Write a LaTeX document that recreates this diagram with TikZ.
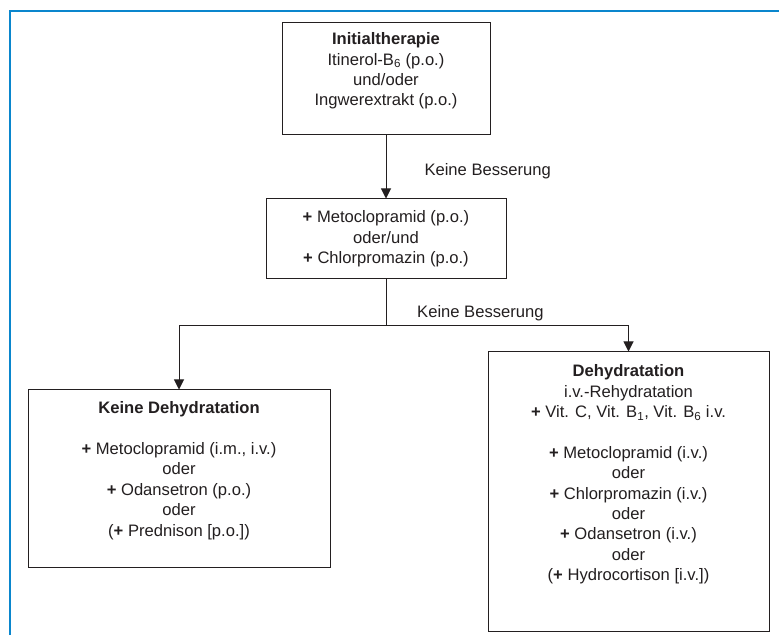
\documentclass[tikz,border=0pt]{standalone}
\usepackage{fontspec}
\setmainfont{Liberation Sans}
\usepackage{xcolor}
\usepackage{tikz}
\usetikzlibrary{arrows.meta,positioning,calc}
\definecolor{ink}{HTML}{231F20}
\definecolor{frameblue}{HTML}{0A86CD}
\tikzset{
  box/.style={
    draw=ink,fill=white,line width=1pt,inner sep=0pt
  },
  boxtext/.style={
    text=ink,inner sep=0pt,align=center,
    font=\fontsize{16.6}{20.4}\selectfont
  },
  lbl/.style={
    text=ink,inner sep=0pt,font=\fontsize{16.6}{20.4}\selectfont
  },
  arrow/.style={-{Triangle[length=10pt,width=10pt]},draw=ink,line width=1pt},
  line/.style={draw=ink,line width=1pt}
}

\begin{document}
\begin{tikzpicture}[x=1pt,y=1pt]
\useasboundingbox (0,0) rectangle (779,635);
\draw[frameblue,line width=2.2pt] (10,0) |- (779,624);

\node[box,minimum width=208pt,minimum height=112pt] (init) at (386,556) {};
\node[boxtext,below=10pt of init.north] (initT) {\textbf{Initialtherapie}\\Itinerol-B\textsubscript{6} (p.o.)\\und/oder\\Ingwerextrakt (p.o.)};

\node[box,boxtext,minimum width=240pt,minimum height=80pt] (mid) at (386,396) {\textbf{+} Metoclopramid (p.o.)\\oder/und\\\textbf{+} Chlorpromazin (p.o.)};

\node[box,minimum width=302pt,minimum height=177pt] (left) at (179,156.5) {};
\node[boxtext,below=12pt of left.north] (leftT) {\textbf{Keine Dehydratation}\\[20.4pt]\textbf{+} Metoclopramid (i.m., i.v.)\\oder\\\textbf{+} Odansetron (p.o.)\\oder\\(\textbf{+} Prednison [p.o.])};

\node[box,minimum width=281pt,minimum height=279pt] (right) at (628.5,143.5) {};
\node[boxtext,below=13pt of right.north] (rightT) {\textbf{Dehydratation}\\i.v.-Rehydratation\\\textbf{+} Vit. C, Vit. B\textsubscript{1}, Vit. B\textsubscript{6} i.v.\\[20.4pt]\textbf{+} Metoclopramid (i.v.)\\oder\\\textbf{+} Chlorpromazin (i.v.)\\oder\\\textbf{+} Odansetron (i.v.)\\oder\\(\textbf{+} Hydrocortison [i.v.])};

\coordinate (branch) at (386,309);

\draw[arrow] (init) -- node[lbl,midway,right=38pt,yshift=-4pt] (lblA) {Keine Besserung} (mid);
\draw[line] (mid) -- (branch);
\draw[arrow] (branch) -| (left.north);
\draw[arrow] (branch) -| (right.north);
\node[lbl,anchor=base west] (lblB) at ($(branch)+(31,8)$) {Keine Besserung};
\end{tikzpicture}
\end{document}
